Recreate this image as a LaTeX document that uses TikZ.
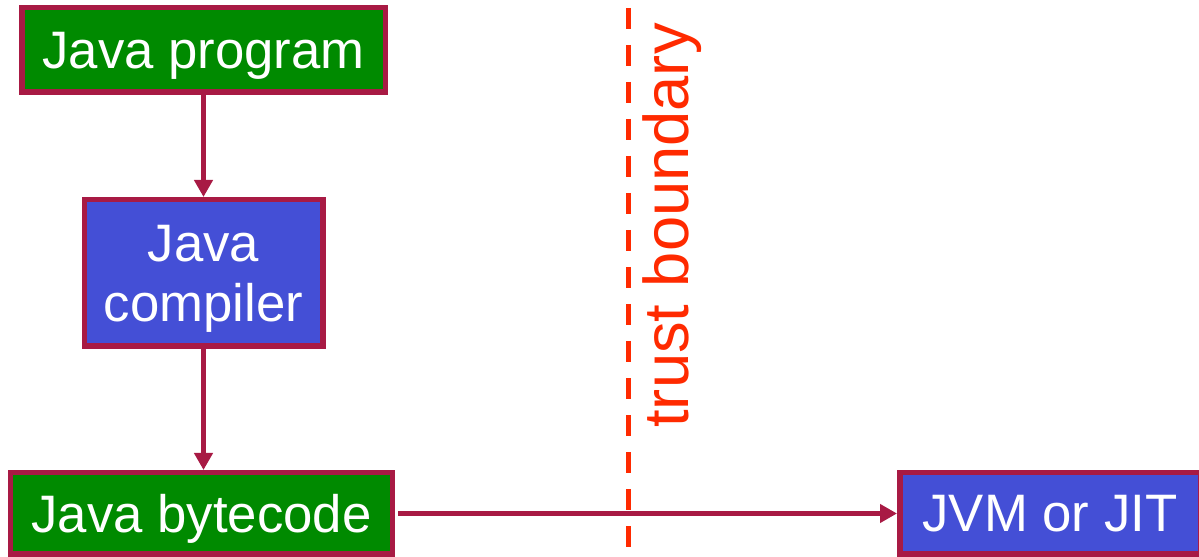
\documentclass[tikz,border=0pt]{standalone}
\usepackage{fontspec}
\setmainfont{Liberation Sans}
\usetikzlibrary{arrows.meta}

\definecolor{edgered}{HTML}{A81A44}
\definecolor{boxgreen}{HTML}{008A00}
\definecolor{boxblue}{HTML}{444FD6}
\definecolor{trustred}{HTML}{FF2A00}

\tikzset{
  stagebox/.style={draw=edgered, line width=0.11cm, text=white,
    font=\fontsize{30}{34}\selectfont, align=center, inner sep=0pt,
    text depth=0pt},
  flow/.style={edgered, line width=0.09cm,
    -{Triangle[width=0.36cm,length=0.34cm]}}
}

\begin{document}
\begin{tikzpicture}
\useasboundingbox (0,0) rectangle (23.98,11.14);
\node[stagebox, fill=boxgreen, minimum width=7.27cm, minimum height=1.69cm]
  (prog) at (4.07,10.14) {Java program};
\node[stagebox, fill=boxblue, minimum width=4.77cm, minimum height=2.93cm]
  (comp) at (4.07,5.68) {Java\\compiler};
\node[stagebox, fill=boxgreen, minimum width=7.63cm, minimum height=1.63cm]
  (byte) at (4.03,0.87) {Java bytecode};
\node[stagebox, fill=boxblue, minimum width=6.01cm, minimum height=1.63cm]
  (jvm) at (21.0,0.87) {JVM or JIT};
% trust boundary
\coordinate (bndtop) at (12.56,10.98);
\coordinate (bndbot) at (12.56,0);
\draw[trustred, line width=0.1cm, dash pattern=on 0.42cm off 0.32cm]
  (bndtop) -- (bndbot);
\node[rotate=90, anchor=base west, inner sep=0pt, text=trustred,
  font=\fontsize{36}{40}\selectfont] (tb) at (13.76,2.58) {trust boundary};
% arrows
\draw[flow] (prog) -- (comp);
\draw[flow] (comp) -- (comp |- byte.north);
\draw[flow, shorten <=0.06cm] (byte) -- (jvm);
\end{tikzpicture}
\end{document}
